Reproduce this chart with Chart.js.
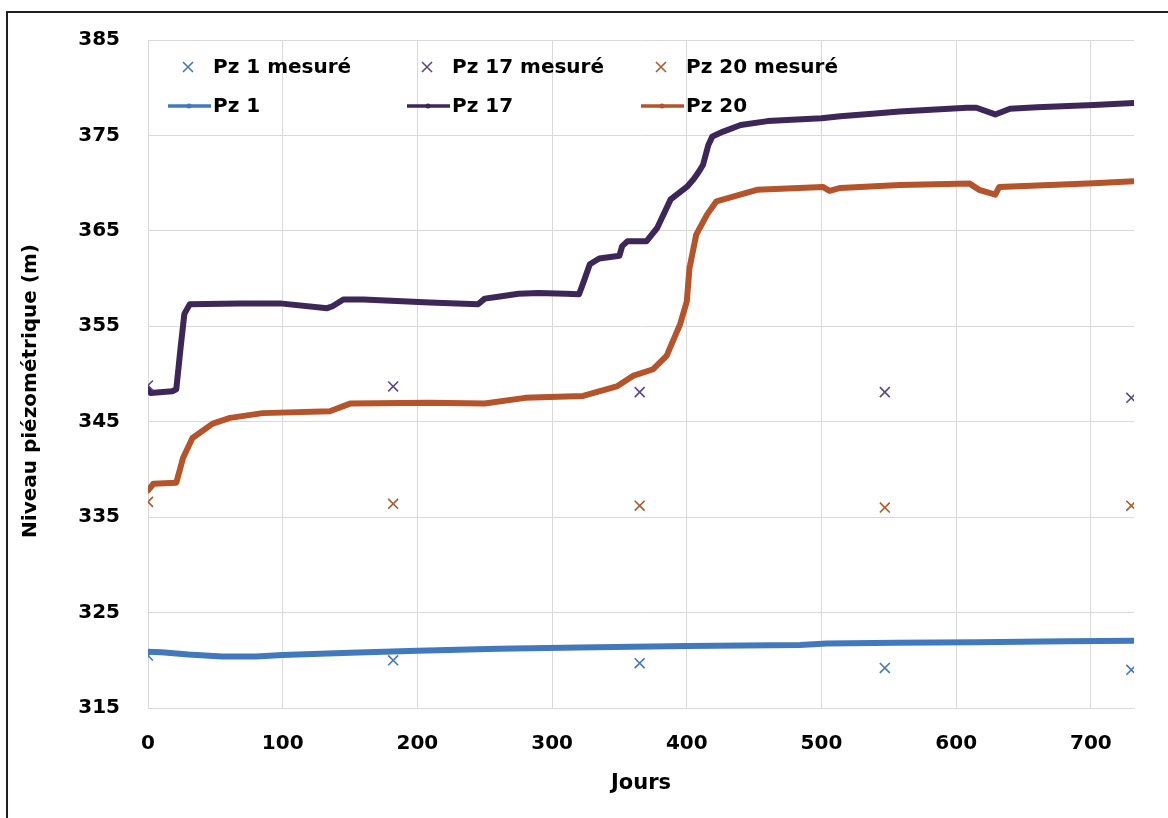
<!DOCTYPE html>
<html>
<head>
<meta charset="utf-8">
<script src="https://cdn.jsdelivr.net/npm/chart.js@4"></script>
<style>
  html, body { margin: 0; padding: 0; background: #fff; overflow: hidden; }
  #wrap { position: relative; width: 1168px; height: 818px; }
  #frame { position: absolute; left: 6px; top: 11px; width: 1200px; height: 900px;
           border-left: 2px solid #231f20; border-top: 2px solid #231f20; }
  canvas { position: absolute; left: 0; top: 0; }
</style>
</head>
<body>
<div id="wrap">
  <div id="frame"></div>
  <canvas id="c" width="1168" height="818"></canvas>
</div>
<script>
// measured campaigns (days)
const measDays = [0, 182, 365, 547, 730];
const pz1Meas  = [320.5, 320.0, 319.7, 319.2, 319.0];
const pz17Meas = [348.8, 348.7, 348.1, 348.1, 347.5];
const pz20Meas = [336.6, 336.4, 336.2, 336.0, 336.2];

// simulated Pz 1
const pz1Days   = [0, 10, 30, 55, 80, 100, 150, 200, 260, 320, 400, 484, 504, 556, 615, 682, 732];
const pz1Levels = [320.9, 320.85, 320.6, 320.4, 320.4, 320.55, 320.8, 321.0, 321.2, 321.35, 321.5, 321.6, 321.75, 321.85, 321.9, 322.0, 322.05];

// simulated Pz 17
const pz17Days   = [0, 2, 18, 21, 24, 27, 31, 68, 98, 133, 137, 145, 160, 209, 245, 250, 260, 275, 290, 310, 320, 323, 328, 335, 350, 352, 356, 370, 378, 388, 400, 405, 408, 412, 416, 419, 427, 440, 460, 500, 514, 540, 558, 608, 615, 629, 640, 660, 702, 732];
const pz17Levels = [348.4, 348.0, 348.2, 348.4, 352.5, 356.3, 357.3, 357.4, 357.4, 356.9, 357.1, 357.8, 357.8, 357.5, 357.3, 357.9, 358.1, 358.4, 358.5, 358.4, 358.35, 359.5, 361.5, 362.1, 362.4, 363.4, 363.9, 363.9, 365.3, 368.3, 369.6, 370.4, 371.0, 371.9, 374.0, 374.9, 375.4, 376.1, 376.5, 376.8, 377.0, 377.3, 377.5, 377.9, 377.9, 377.2, 377.8, 377.95, 378.2, 378.4];

// simulated Pz 20
const pz20Days   = [0, 4, 21, 26, 33, 48, 61, 85, 135, 150, 209, 250, 280, 323, 348, 360, 375, 385, 395, 400, 402, 407, 415, 422, 452, 501, 506, 514, 558, 610, 617, 629, 632, 702, 732];
const pz20Levels = [337.8, 338.5, 338.6, 341.2, 343.3, 344.8, 345.4, 345.9, 346.1, 346.9, 347.0, 346.9, 347.5, 347.7, 348.7, 349.8, 350.5, 351.9, 355.2, 357.6, 361.1, 364.6, 366.7, 368.1, 369.3, 369.6, 369.2, 369.5, 369.8, 369.95, 369.3, 368.8, 369.6, 370.0, 370.2];

const xy = (xs, ys) => xs.map((x, i) => ({ x, y: ys[i] }));

const FONT = '"DejaVu Sans", sans-serif';
const blue = '#4279bd', purple = '#3d2758', orange = '#b5532a';
const purpleMark = '#5d4887', orangeMark = '#b05a2c';

function measured(label, data, color) {
  return {
    label, data: xy(measDays, data), showLine: false,
    pointStyle: 'crossRot', pointRadius: 7, pointBorderWidth: 1.6,
    borderColor: color, backgroundColor: color
  };
}
function simulated(label, xs, ys, color) {
  return {
    label, data: xy(xs, ys), showLine: true, pointRadius: 0,
    borderColor: color, backgroundColor: color, borderWidth: 6,
    borderJoinStyle: 'round', borderCapStyle: 'round', tension: 0
  };
}

// legend drawn inside the plot, two rows of three
const legendPlugin = {
  id: 'insideLegend',
  afterDraw(chart) {
    const ctx = chart.ctx;
    const cols = [168, 407, 641];
    const rows = [67, 106];
    ctx.save();
    ctx.font = 'bold 20px ' + FONT;
    ctx.textBaseline = 'middle';
    ctx.fillStyle = '#000';
    chart.data.datasets.forEach((ds, i) => {
      const col = i % 3, row = Math.floor(i / 3);
      const x0 = cols[col], y = rows[row];
      ctx.strokeStyle = ds.borderColor;
      if (row === 0) {
        const cx = x0 + 20, r = 5;
        ctx.lineWidth = 1.6;
        ctx.beginPath();
        ctx.moveTo(cx - r, y - r); ctx.lineTo(cx + r, y + r);
        ctx.moveTo(cx + r, y - r); ctx.lineTo(cx - r, y + r);
        ctx.stroke();
      } else {
        ctx.lineWidth = 3.5;
        ctx.beginPath();
        ctx.moveTo(x0, y); ctx.lineTo(x0 + 43, y);
        ctx.stroke();
        ctx.fillStyle = ds.borderColor;
        ctx.beginPath(); ctx.arc(x0 + 21, y, 2.5, 0, Math.PI * 2); ctx.fill();
        ctx.fillStyle = '#000';
      }
      ctx.fillText(ds.label, x0 + 45, y + 1);
    });

    // y axis title, sitting a little below the axis middle as in the original
    ctx.translate(31, 391);
    ctx.rotate(-Math.PI / 2);
    ctx.textAlign = 'center';
    ctx.fillText('Niveau piézométrique (m)', 0, 0);
    ctx.restore();
  }
};

new Chart(document.getElementById('c'), {
  type: 'scatter',
  data: {
    datasets: [
      measured('Pz 1 mesuré', pz1Meas, blue),
      measured('Pz 17 mesuré', pz17Meas, purpleMark),
      measured('Pz 20 mesuré', pz20Meas, orangeMark),
      simulated('Pz 1', pz1Days, pz1Levels, blue),
      simulated('Pz 17', pz17Days, pz17Levels, purple),
      simulated('Pz 20', pz20Days, pz20Levels, orange)
    ]
  },
  options: {
    responsive: false,
    animation: false,
    layout: { padding: { left: 10, top: 38, right: 34, bottom: 8 } },
    plugins: { legend: { display: false }, tooltip: { enabled: false } },
    scales: {
      x: {
        type: 'linear', min: 0, max: 732,
        afterFit: s => { s.height = 102; },
        ticks: { stepSize: 100, includeBounds: false, padding: 24, color: '#000',
                 font: { family: FONT, size: 20, weight: 'bold' } },
        grid: { color: '#d9d9d9', drawTicks: false },
        border: { color: '#d9d9d9' },
        title: { display: true, text: 'Jours', color: '#000', padding: { top: 0, bottom: 14 },
                 font: { family: FONT, size: 21, weight: 'bold' } }
      },
      y: {
        min: 315, max: 385,
        afterFit: s => { s.width = 138; },
        ticks: { stepSize: 10, padding: 28, color: '#000',
                 font: { family: FONT, size: 20, weight: 'bold' } },
        grid: { color: '#d9d9d9', drawTicks: false },
        border: { color: '#d9d9d9' }
      }
    }
  },
  plugins: [legendPlugin]
});
</script>
</body>
</html>
